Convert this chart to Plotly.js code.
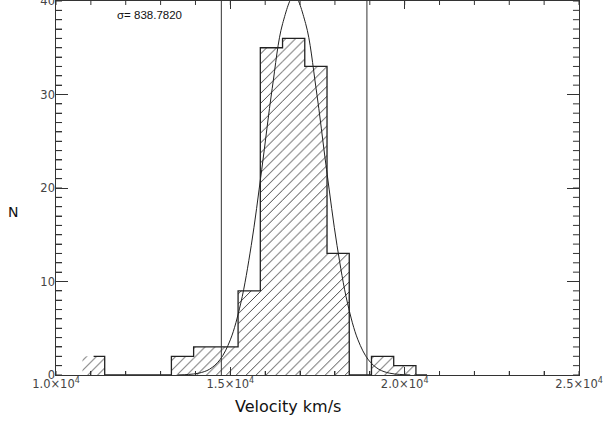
<!DOCTYPE html>
<html>
<head>
<meta charset="utf-8">
<script src="https://cdn.plot.ly/plotly-3.0.1.min.js"></script>
<style>html,body{margin:0;padding:0;background:#fff;}#chart{width:603px;height:423px;}</style>
</head>
<body>
<div id="chart"></div>
<script>
// Histogram bins (velocity, km/s) and counts
var binCenters = [11078, 11715, 12353, 12991, 13628, 14266, 14903, 15541, 16179, 16816, 17454, 18092, 18729, 19367, 20004, 20642];
var counts     = [2, 0, 0, 0, 2, 3, 3, 9, 35, 36, 33, 13, 0, 2, 1, 0];
var binWidth = 637.6;

// Gaussian fit curve
var fitX = [13500, 13800, 14100, 14400, 14700, 15000, 15300, 15600, 15900, 16200, 16500, 16830, 17160, 17460, 17760, 18060, 18360, 18660, 18960, 19260, 19560, 19860, 20160];
var fitY = [0.01, 0.06, 0.20, 0.61, 1.62, 3.76, 7.69, 13.86, 21.95, 30.62, 37.58, 40.6, 37.58, 30.62, 21.95, 13.86, 7.69, 3.76, 1.62, 0.61, 0.20, 0.06, 0.01];

// Vertical limit lines
var limitX = [14742, 18917];

var xTickVals = [10000, 15000, 20000, 25000];
var xTickText = ['1.0×10<sup>4</sup>', '1.5×10<sup>4</sup>', '2.0×10<sup>4</sup>', '2.5×10<sup>4</sup>'];
var yTickVals = [0, 10, 20, 30, 40];
var xMinorStep = 1000;
var yMinorStep = 1;
var sigmaText = 'σ= 838.7820';

var ink = '#222';
var xRange = [xTickVals[0], xTickVals[xTickVals.length - 1]];
var yRange = [yTickVals[0], yTickVals[yTickVals.length - 1]];

var traces = [];
traces.push({
  type: 'bar', x: binCenters, y: counts, width: binWidth,
  marker: {color: 'rgba(255,255,255,0)', line: {width: 0},
           pattern: {shape: '/', fgcolor: '#444', bgcolor: 'rgba(255,255,255,0)', size: 7, solidity: 0.14}},
  hoverinfo: 'skip', showlegend: false
});
traces.push({
  type: 'scatter', mode: 'lines', x: binCenters, y: counts,
  line: {shape: 'hvh', color: ink, width: 1.3}, showlegend: false
});
traces.push({
  type: 'scatter', mode: 'lines', x: fitX, y: fitY,
  line: {shape: 'spline', color: ink, width: 1}, showlegend: false
});
limitX.forEach(function (lx) {
  traces.push({type: 'scatter', mode: 'lines', x: [lx, lx], y: [0, 40],
    line: {color: '#333', width: 1}, showlegend: false});
});

// Minor tick marks on all four sides (clipped to the plot area so only the inner half shows)
function stepList(a, b, s) { var out = []; for (var v = a; v <= b + 1e-9; v += s) out.push(v); return out; }
var xMinorTicks = stepList(xRange[0], xRange[1], xMinorStep);
var yMinorTicks = stepList(yRange[0], yRange[1], yMinorStep);
function tickMarks(xs, ys, symbol, size) {
  return {type: 'scatter', mode: 'markers', x: xs, y: ys, cliponaxis: true,
    marker: {symbol: symbol, size: size, color: '#333', line: {color: '#333', width: 1}},
    showlegend: false, hoverinfo: 'skip'};
}
traces.push(tickMarks(yMinorTicks.map(function () { return xRange[0]; }), yMinorTicks, 'line-ew-open', 8.6));
traces.push(tickMarks(yMinorTicks.map(function () { return xRange[1]; }), yMinorTicks, 'line-ew-open', 8.6));
traces.push(tickMarks(xMinorTicks, xMinorTicks.map(function () { return yRange[0]; }), 'line-ns-open', 5.7));
traces.push(tickMarks(xMinorTicks, xMinorTicks.map(function () { return yRange[1]; }), 'line-ns-open', 5.7));

// invisible traces to carry the extra tick / label axes
[['x2', 'y'], ['x3', 'y'], ['x', 'y2'], ['x', 'y3']].forEach(function (p) {
  traces.push({type: 'scatter', mode: 'markers', x: [binCenters[0]], y: [counts[0]],
    xaxis: p[0], yaxis: p[1], marker: {opacity: 0}, showlegend: false, hoverinfo: 'skip'});
});

var tickFont = {family: 'DejaVu Sans', size: 11.5, color: '#444'};

function tickAxis(range, side, t0, step, len, extra) {
  return Object.assign({
    range: range, side: side, tickmode: 'linear', tick0: t0, dtick: step,
    ticks: 'inside', ticklen: len, tickcolor: '#333', tickwidth: 1,
    showline: true, linecolor: '#333', linewidth: 1,
    showgrid: false, zeroline: false, showticklabels: false
  }, extra || {});
}

var layout = {
  width: 603, height: 423,
  margin: {l: 56, r: 24, t: 1, b: 48},
  paper_bgcolor: '#fff', plot_bgcolor: '#fff',
  barmode: 'overlay',
  xaxis: tickAxis(xRange, 'bottom', xTickVals[0], xMinorStep, 4),
  yaxis: tickAxis(yRange, 'left', yTickVals[0], yMinorStep, 6),
  xaxis2: {
    overlaying: 'x', side: 'bottom', range: xRange, tickmode: 'array',
    tickvals: xTickVals, ticktext: xTickText, ticks: 'inside', ticklen: 8, tickcolor: '#333',
    showline: false, showgrid: false, zeroline: false, tickfont: tickFont, ticklabeloverflow: 'allow'
  },
  yaxis2: {
    overlaying: 'y', side: 'left', range: yRange, tickmode: 'array',
    tickvals: yTickVals, ticks: 'inside', ticklen: 12, tickcolor: '#333',
    showline: false, showgrid: false, zeroline: false, tickfont: tickFont, ticklabeloverflow: 'allow'
  },
  xaxis3: tickAxis(xRange, 'top', xTickVals[0], xTickVals[1] - xTickVals[0], 8, {overlaying: 'x'}),
  yaxis3: tickAxis(yRange, 'right', yTickVals[0], yTickVals[1] - yTickVals[0], 12, {overlaying: 'y'}),
  annotations: [
    {text: sigmaText, x: 12679, y: 38.5, xref: 'x', yref: 'y', showarrow: false,
     font: {family: 'Liberation Sans', size: 11.5, color: '#111'}},
    {text: 'Velocity km/s', x: (287.5 - 56) / 523, y: (375 - 407) / 374, xref: 'paper', yref: 'paper',
     xanchor: 'center', yanchor: 'middle', showarrow: false,
     font: {family: 'DejaVu Sans', size: 16, color: '#111'}},
    {text: 'N', x: (13 - 56) / 523, y: (375 - 212) / 374, xref: 'paper', yref: 'paper',
     xanchor: 'center', yanchor: 'middle', showarrow: false,
     font: {family: 'DejaVu Sans', size: 14, color: '#111'}}
  ]
};

Plotly.newPlot('chart', traces, layout, {displayModeBar: false, staticPlot: true});
</script>
</body>
</html>
